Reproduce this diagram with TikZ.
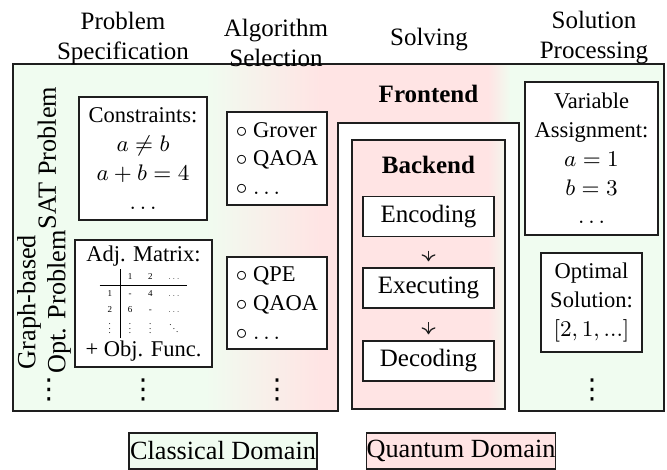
\documentclass[tikz,border=0pt]{standalone}
\usepackage[no-math]{fontspec}
\setmainfont{Liberation Serif}
\newfontfamily\symfont{DejaVu Sans}
\usepackage{graphicx}
\usetikzlibrary{arrows.meta}
\definecolor{grn}{RGB}{240,252,240}
\definecolor{rd}{RGB}{255,228,228}
\definecolor{linec}{RGB}{30,30,30}
\newcommand\boxfont{\fontsize{9}{11.5}\selectfont}
\newcommand\bigfont{\fontsize{10.5}{12}\selectfont}
\tikzset{
  lbl/.style={inner sep=0pt, align=center, font=\normalsize},
  outline/.style={draw=linec, line width=0.55pt},
  wbox/.style={outline, fill=white, inner sep=0pt, align=center, font=\boxfont},
  lbox/.style={wbox, align=left},
  stage/.style={wbox, font=\normalsize, minimum width=52.4pt, minimum height=16pt},
  flow/.style={-{To[length=2.8pt,width=5.6pt]}, draw=linec, line width=0.5pt, shorten <=5.4pt, shorten >=2.4pt},
  dotsn/.style={inner sep=0pt, anchor=center, font=\symfont\fontsize{11}{11}\selectfont},
  legend/.style={outline, inner sep=0pt, minimum width=75.2pt, minimum height=14.4pt, font=\bigfont}
}
\begin{document}
\begin{tikzpicture}[x=0.4pt,y=-0.4pt]
\useasboundingbox (0,0) rectangle (667,470);
% shaded domains
\begin{scope}
  \clip (13,64) -- (664,64) -- (664,411) -- (519,411) -- (519,123) -- (338,123) -- (338,411) -- (13,411) -- cycle
        (352,140) rectangle (505,409);
  \fill[grn] (12,63) rectangle (206,412);
  \shade[left color=grn,right color=rd] (205,63) rectangle (321,412);
  \fill[rd] (320,63) rectangle (489,412);
  \shade[left color=rd,right color=grn] (488,63) rectangle (511,412);
  \fill[grn] (510,63) rectangle (665,412);
\end{scope}
\draw[outline] (13,64) -- (664,64) -- (664,411) -- (519,411) -- (519,123) -- (338,123) -- (338,411) -- (13,411) -- cycle;
\node[outline, inner sep=0pt, minimum width=61.2pt, minimum height=107.6pt] (backend) at (428.5,274.5) {};

% headers
\node[lbl] (hspec) at (123,38) {Problem\\Specification};
\node[lbl] (halg) at (276,42.5) {Algorithm\\Selection};
\node[lbl] (hsolve) at (429,40) {Solving};
\node[lbl] (hproc) at (594,38) {Solution\\Processing};

% row labels
\node[lbl, rotate=90, font=\bigfont] (sat) at (47,158) {SAT Problem};
\node[lbl, rotate=90, font=\bigfont] (graph) at (44,302) {Graph-based\\Opt. Problem};

% problem specification
\node[wbox, minimum width=51.2pt, minimum height=49.2pt] (cons) at (143,158.5)
  {Constraints:\\$a\neq b$\\$a+b=4$\\$\dots$};
\node[wbox, minimum width=54.8pt, minimum height=50.8pt] (adj) at (143.5,303.5)
  {Adj. Matrix:\\\scalebox{0.45}{\fontsize{8}{14.2}\selectfont\setlength{\tabcolsep}{7pt}%
   \begin{tabular}{c|ccc} & 1 & 2 & $\dots$\\\hline 1 & - & 4 & $\dots$\\ 2 & 6 & - & $\dots$\\ $\vdots$ & $\vdots$ & $\vdots$ & $\ddots$\end{tabular}}\\+ Obj. Func.};

% algorithm selection
\node[lbox, minimum width=40pt, minimum height=37.2pt] (alg1) at (277,158.5)
  {$\circ$ Grover\\$\circ$ QAOA\\$\circ$ $\dots$};
\node[lbox, minimum width=40pt, minimum height=36.8pt] (alg2) at (277,303)
  {$\circ$ QPE\\$\circ$ QAOA\\$\circ$ $\dots$};

% solving
\node[lbl, font=\bfseries] (front) at (428.5,94) {Frontend};
\node[lbl, font=\bfseries] (back) at (428.5,165) {Backend};
\node[stage] (enc) at (428.5,216.5) {Encoding};
\node[stage] (exe) at (428.5,288) {Executing};
\node[stage] (dec) at (428.5,361) {Decoding};
\draw[flow] (enc.south) -- (exe.north);
\draw[flow] (exe.south) -- (dec.north);

% solution processing
\node[wbox, minimum width=53.2pt, minimum height=61.2pt] (var) at (591.5,158.5)
  {Variable\\Assignment:\\$a=1$\\$b=3$\\$\dots$};
\node[wbox, minimum width=40.4pt, minimum height=39.6pt] (opt) at (591.5,302.5)
  {Optimal\\Solution:\\$[2, 1, ...]$};

% continuation dots
\node[dotsn] (d1) at (49,390) {⋮};
\node[dotsn] (d2) at (143,390) {⋮};
\node[dotsn] (d3) at (277,390) {⋮};
\node[dotsn] (d4) at (592,390) {⋮};

% legend
\node[legend, fill=grn] (classical) at (223,451) {Classical Domain};
\node[legend, fill=rd] (quantum) at (461,451) {Quantum Domain};
\end{tikzpicture}
\end{document}
